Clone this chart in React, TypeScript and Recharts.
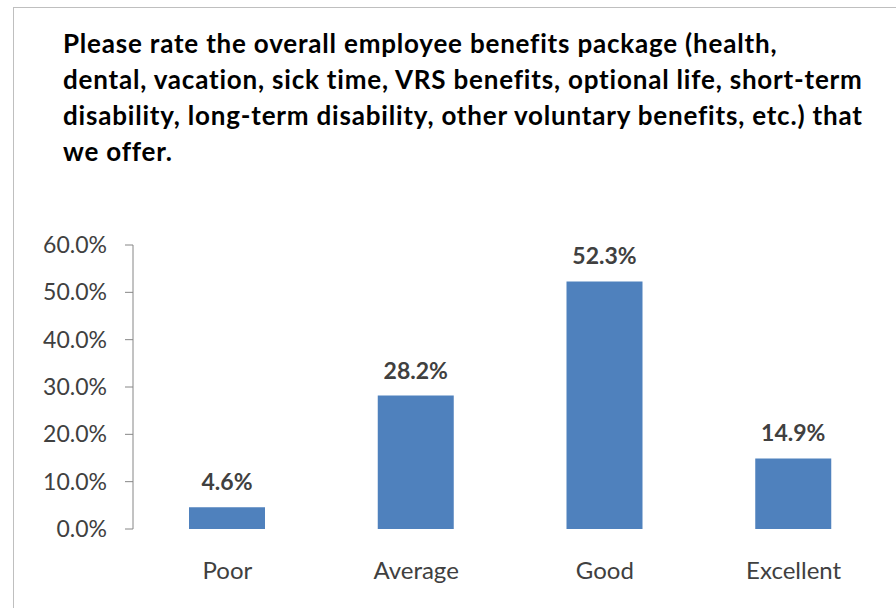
import React from 'react';
import { BarChart, Bar, XAxis, YAxis, LabelList } from 'recharts';

const categories = ['Poor', 'Average', 'Good', 'Excellent'];
const shares = [4.6, 28.2, 52.3, 14.9];
const yTicks = [0, 10, 20, 30, 40, 50, 60];
const edgeTicks = [0, 1, 2, 3, 4];
const titleLines = [
  'Please rate the overall employee benefits package (health,',
  'dental, vacation, sick time, VRS benefits, optional life, short-term',
  'disability, long-term disability, other voluntary benefits, etc.) that',
  'we offer.',
];

const data = categories.map((name, i) => ({ name, value: shares[i] }));

const FONT = 'Lato, "Open Sans", sans-serif';
const AXIS = '#868686';
const TEXT = '#404040';

export default function App() {
  return (
    <div style={{ position: 'absolute', left: 0, top: 0, width: 896, height: 608, overflow: 'hidden', background: '#fff', fontFamily: FONT }}>
      {/* chart frame runs past the right/bottom edges */}
      <div style={{ position: 'absolute', left: 13, top: 7, width: 920, height: 640, border: '1px solid #BFBFBF' }} />

      <div style={{ position: 'absolute', left: 63, top: 25, fontWeight: 700, fontSize: 26, letterSpacing: 0.8, lineHeight: '36px', color: '#000', whiteSpace: 'pre' }}>
        {titleLines.map((l) => (
          <div key={l}>{l}</div>
        ))}
      </div>

      <div style={{ position: 'absolute', left: 0, top: 0 }}>
        <BarChart
          width={896}
          height={608}
          data={data}
          margin={{ top: 245, right: 8, left: 0, bottom: 19 }}
        >
          <XAxis
            xAxisId="edges"
            type="number"
            domain={[0, 4]}
            ticks={edgeTicks}
            height={0}
            stroke={AXIS}
            tickSize={9}
            tickFormatter={() => ''}
          />
          <XAxis
            dataKey="name"
            axisLine={false}
            tickLine={false}
            height={60}
            tickMargin={27}
            tick={{ fill: TEXT, fontSize: 24, fontFamily: FONT }}
          />
          <YAxis
            width={133}
            domain={[0, 60]}
            ticks={yTicks}
            stroke={AXIS}
            tickSize={8}
            tickMargin={18}
            tickFormatter={(v) => `${Number(v).toFixed(1)}%`}
            tick={{ fill: TEXT, fontSize: 23, fontFamily: FONT }}
          />
          <Bar dataKey="value" fill="#4F81BD" barSize={76} isAnimationActive={false}>
            <LabelList
              dataKey="value"
              position="top"
              offset={17}
              formatter={(v: any) => `${Number(v).toFixed(1)}%`}
              style={{ fill: TEXT, fontSize: 23, fontWeight: 700, fontFamily: FONT }}
            />
          </Bar>
        </BarChart>
      </div>
    </div>
  );
}
